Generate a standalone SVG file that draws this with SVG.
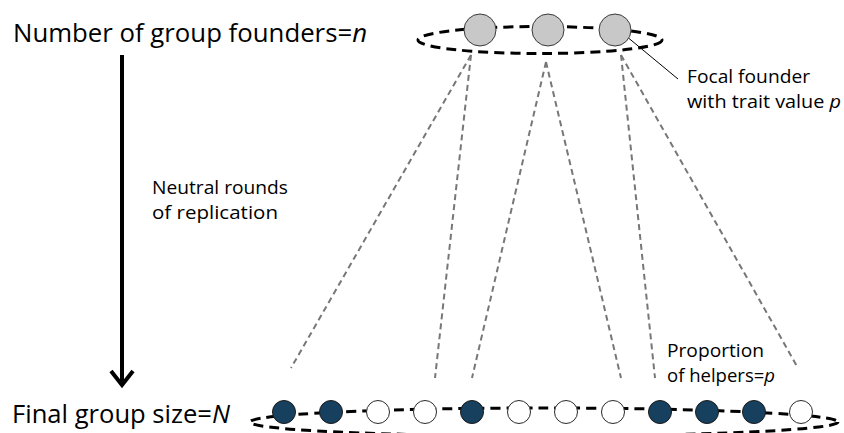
<svg xmlns="http://www.w3.org/2000/svg" width="844" height="433" viewBox="0 0 844 433">
  <style>
    .lbl { font-family: "Open Sans", "Liberation Sans", sans-serif; fill: #000; }
    .big { font-size: 25px; }
    .small { font-size: 19px; }
    .it { font-style: italic; }
    .ring { fill: none; stroke: #000; stroke-width: 3; stroke-dasharray: 10 6; }
    .lineage { fill: none; stroke: #777; stroke-width: 2; stroke-dasharray: 6 4; }
    .founder { fill: #c8c8c8; stroke: #3a3a3a; stroke-width: 1; }
    .helper { fill: #17405f; stroke: #1a1a1a; stroke-width: 1; }
    .other { fill: #fff; stroke: #2a2a2a; stroke-width: 1; }
  </style>

  <rect width="844" height="433" fill="#fff"/>

  <!-- group outlines -->
  <ellipse class="ring" cx="540" cy="40" rx="122" ry="13.5"/>
  <ellipse class="ring" cx="544" cy="422" rx="294" ry="14"/>

  <!-- lineages from founders down to the final group -->
  <g id="connectors">
    <line class="lineage" x1="471" y1="55" x2="291" y2="368"/>
    <line class="lineage" x1="471" y1="55" x2="435" y2="378"/>
    <line class="lineage" x1="546" y1="62" x2="472" y2="378"/>
    <line class="lineage" x1="546" y1="62" x2="621" y2="378"/>
    <line class="lineage" x1="621" y1="55" x2="655" y2="378"/>
    <line class="lineage" x1="621" y1="55" x2="798" y2="368"/>
    <!-- callout to the focal founder -->
    <line x1="620" y1="31" x2="678" y2="79" stroke="#000" stroke-width="1"/>
    <!-- time arrow -->
    <g id="time-arrow" stroke="#000" stroke-width="4" fill="none">
      <line x1="122" y1="55" x2="122" y2="384"/>
      <polyline points="111,371 122,385 133,371" stroke-linejoin="miter"/>
    </g>
  </g>

  <!-- founders -->
  <g id="founder-1"><circle class="founder" cx="480" cy="30" r="16"/></g>
  <g id="founder-2"><circle class="founder" cx="548" cy="30" r="16"/></g>
  <g id="founder-focal"><circle class="founder" cx="615" cy="30" r="16"/></g>

  <!-- final group members -->
  <g id="member-1"><circle class="helper" cx="284" cy="412" r="11.5"/></g>
  <g id="member-2"><circle class="helper" cx="331" cy="412" r="11.5"/></g>
  <g id="member-3"><circle class="other" cx="378" cy="412" r="11.5"/></g>
  <g id="member-4"><circle class="other" cx="425" cy="412" r="11.5"/></g>
  <g id="member-5"><circle class="helper" cx="472" cy="412" r="11.5"/></g>
  <g id="member-6"><circle class="other" cx="519" cy="412" r="11.5"/></g>
  <g id="member-7"><circle class="other" cx="566" cy="412" r="11.5"/></g>
  <g id="member-8"><circle class="other" cx="613" cy="412" r="11.5"/></g>
  <g id="member-9"><circle class="helper" cx="660" cy="412" r="11.5"/></g>
  <g id="member-10"><circle class="helper" cx="707" cy="412" r="11.5"/></g>
  <g id="member-11"><circle class="helper" cx="754" cy="412" r="11.5"/></g>
  <g id="member-12"><circle class="other" cx="801" cy="412" r="11.5"/></g>

  <!-- labels -->
  <g id="labels">
    <text class="lbl big" x="13" y="42" textLength="354" lengthAdjust="spacingAndGlyphs">Number of group founders=<tspan class="it">n</tspan></text>
    <text class="lbl big" x="12" y="423" textLength="218" lengthAdjust="spacingAndGlyphs">Final group size=<tspan class="it">N</tspan></text>
    <text class="lbl small" x="152" y="194" textLength="136" lengthAdjust="spacingAndGlyphs">Neutral rounds</text>
    <text class="lbl small" x="152" y="219" textLength="126" lengthAdjust="spacingAndGlyphs">of replication</text>
    <text class="lbl small" x="687" y="83" textLength="123" lengthAdjust="spacingAndGlyphs">Focal founder</text>
    <text class="lbl small" x="687" y="108" textLength="154" lengthAdjust="spacingAndGlyphs">with trait value <tspan class="it">p</tspan></text>
    <text class="lbl small" x="667" y="357" textLength="97" lengthAdjust="spacingAndGlyphs">Proportion</text>
    <text class="lbl small" x="667" y="382" textLength="108" lengthAdjust="spacingAndGlyphs">of helpers=<tspan class="it">p</tspan></text>
  </g>
</svg>
